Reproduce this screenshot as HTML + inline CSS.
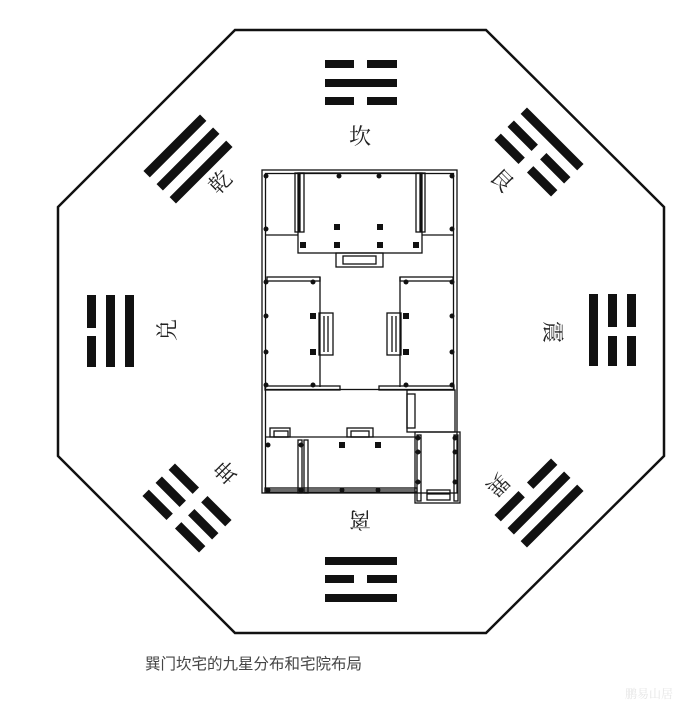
<!DOCTYPE html>
<html><head><meta charset="utf-8"><style>
html,body{margin:0;padding:0;background:#fff;}
svg{display:block;}
text{font-family:"Liberation Serif","Noto Serif CJK SC",serif;fill:#222;}
</style></head><body>
<svg width="700" height="706" viewBox="0 0 700 706" xmlns="http://www.w3.org/2000/svg">
<rect width="700" height="706" fill="#fff"/>
<polygon points="235,30 486,30 664,207 664,456 486,633 235,633 58,456 58,207" fill="none" stroke="#111" stroke-width="2.5"/>

<g fill="#111">
<rect x="325" y="60" width="29" height="8"/><rect x="367" y="60" width="30" height="8"/>
<rect x="325" y="79" width="72" height="8"/>
<rect x="325" y="97" width="29" height="8"/><rect x="367" y="97" width="30" height="8"/>
<rect x="325" y="557" width="72" height="8"/>
<rect x="325" y="575" width="29" height="8"/><rect x="367" y="575" width="30" height="8"/>
<rect x="325" y="594" width="72" height="8"/>
<rect x="87" y="295" width="9" height="33"/><rect x="87" y="336" width="9" height="31"/>
<rect x="106" y="295" width="9" height="72"/>
<rect x="125" y="295" width="9" height="72"/>
<rect x="589" y="294" width="9" height="72"/>
<rect x="608" y="294" width="9" height="33"/><rect x="608" y="336" width="9" height="30"/>
<rect x="627" y="294" width="9" height="33"/><rect x="627" y="336" width="9" height="30"/>
</g>
<g fill="#111" transform="translate(188,159) rotate(-45)">
<rect x="-40" y="-23" width="80" height="9"/><rect x="-40" y="-4.5" width="80" height="9"/><rect x="-40" y="14" width="80" height="9"/>
</g>
<g fill="#111" transform="translate(539,152) rotate(45)">
<rect x="-40" y="-23" width="80" height="9"/>
<rect x="-40" y="-4.5" width="34" height="9"/><rect x="6" y="-4.5" width="34" height="9"/>
<rect x="-40" y="14" width="34" height="9"/><rect x="6" y="14" width="34" height="9"/>
</g>
<g fill="#111" transform="translate(187,508) rotate(45)">
<rect x="-40" y="-23" width="34" height="9"/><rect x="6" y="-23" width="34" height="9"/>
<rect x="-40" y="-4.5" width="34" height="9"/><rect x="6" y="-4.5" width="34" height="9"/>
<rect x="-40" y="14" width="34" height="9"/><rect x="6" y="14" width="34" height="9"/>
</g>
<g fill="#111" transform="translate(539,503) rotate(-45)">
<rect x="-40" y="-23" width="34" height="9"/><rect x="6" y="-23" width="34" height="9"/>
<rect x="-40" y="-4.5" width="80" height="9"/>
<rect x="-40" y="14" width="80" height="9"/>
</g>

<g font-size="22" text-anchor="middle">
<text x="360" y="144">坎</text>
<text transform="translate(220,182) rotate(-45)" y="8">乾</text>
<text transform="translate(502,180) rotate(45)" y="8">艮</text>
<text transform="translate(167,330) rotate(-90)" y="8">兑</text>
<text transform="translate(553,332) rotate(90)" y="8">震</text>
<text transform="translate(226,472) rotate(-135)" y="8">坤</text>
<text transform="translate(498,485) rotate(135)" y="8">巽</text>
<text transform="translate(360,520) rotate(180)" y="8">离</text>
</g>

<g fill="none" stroke="#111" stroke-width="1.3">
<rect x="262" y="170" width="195" height="323"/>
<rect x="265.5" y="173.5" width="188" height="216"/>
<path d="M265.5 390 V490 H415"/>
<rect x="298" y="173" width="124" height="80"/>
<rect x="295" y="173" width="4" height="59"/><rect x="300" y="173" width="4" height="59"/>
<rect x="416" y="173" width="4" height="59"/><rect x="421" y="173" width="4" height="59"/>
<line x1="265" y1="235" x2="298" y2="235"/><line x1="422" y1="235" x2="454" y2="235"/>
<rect x="336" y="253" width="47" height="14"/><rect x="343" y="256" width="33" height="8"/>
<rect x="267" y="277" width="53" height="4"/>
<line x1="320" y1="277" x2="320" y2="387"/>
<rect x="265" y="386" width="75" height="4"/>
<rect x="319" y="313" width="14" height="42"/><line x1="324" y1="316" x2="324" y2="352"/><line x1="328" y1="316" x2="328" y2="352"/>
<rect x="400" y="277" width="53" height="4"/>
<line x1="400" y1="277" x2="400" y2="387"/>
<rect x="379" y="386" width="75" height="4"/>
<rect x="387" y="313" width="14" height="42"/><line x1="392" y1="316" x2="392" y2="352"/><line x1="396" y1="316" x2="396" y2="352"/>
<rect x="407" y="390" width="48" height="42"/>
<rect x="407" y="394" width="8" height="34"/>
<line x1="265" y1="437" x2="417" y2="437"/>
<rect x="298" y="440" width="4" height="53"/><rect x="304" y="440" width="4" height="53"/>
<rect x="265" y="488" width="152" height="4"/>
<rect x="347" y="428" width="26" height="9"/><rect x="351" y="431" width="18" height="6"/>
<rect x="270" y="428" width="20" height="9"/><rect x="274" y="431" width="14" height="6"/>
<rect x="415" y="432" width="45" height="71"/>
<rect x="417" y="435" width="4" height="66"/><rect x="454" y="435" width="4" height="66"/>
<rect x="427" y="490" width="23" height="10"/><line x1="427" y1="494" x2="450" y2="494"/>
</g>
<g fill="#111">
<circle cx="266" cy="176" r="2.5"/><circle cx="339" cy="176" r="2.5"/><circle cx="379" cy="176" r="2.5"/><circle cx="452" cy="176" r="2.5"/>
<circle cx="266" cy="229" r="2.5"/><circle cx="452" cy="229" r="2.5"/>
<rect x="334" y="224" width="6" height="6"/><rect x="377" y="224" width="6" height="6"/>
<rect x="334" y="242" width="6" height="6"/><rect x="377" y="242" width="6" height="6"/>
<rect x="300" y="242" width="6" height="6"/><rect x="413" y="242" width="6" height="6"/>
<circle cx="266" cy="282" r="2.5"/><circle cx="266" cy="316" r="2.5"/><circle cx="266" cy="352" r="2.5"/><circle cx="266" cy="385" r="2.5"/>
<circle cx="452" cy="282" r="2.5"/><circle cx="452" cy="316" r="2.5"/><circle cx="452" cy="352" r="2.5"/><circle cx="452" cy="385" r="2.5"/>
<circle cx="313" cy="282" r="2.5"/><circle cx="313" cy="385" r="2.5"/><circle cx="406" cy="282" r="2.5"/><circle cx="406" cy="385" r="2.5"/>
<rect x="310" y="313" width="6" height="6"/><rect x="310" y="349" width="6" height="6"/>
<rect x="403" y="313" width="6" height="6"/><rect x="403" y="349" width="6" height="6"/>
<circle cx="268" cy="445" r="2.5"/><circle cx="268" cy="490" r="2.5"/><circle cx="301" cy="445" r="2.5"/><circle cx="301" cy="490" r="2.5"/>
<circle cx="342" cy="490" r="2.5"/><circle cx="378" cy="490" r="2.5"/>
<rect x="339" y="442" width="6" height="6"/><rect x="375" y="442" width="6" height="6"/>
<circle cx="418" cy="438" r="2.5"/><circle cx="418" cy="452" r="2.5"/><circle cx="418" cy="482" r="2.5"/><circle cx="455" cy="438" r="2.5"/><circle cx="455" cy="452" r="2.5"/><circle cx="455" cy="482" r="2.5"/>
</g>

<text x="145" y="669" font-size="15.5" style='font-family:"Liberation Sans","Noto Sans CJK SC",sans-serif;fill:#444'>巽门坎宅的九星分布和宅院布局</text>
<text x="625" y="698" font-size="12" style='font-family:"Noto Serif CJK SC",serif;fill:#e6e6e6'>鹏易山居</text>
</svg>
</body></html>
